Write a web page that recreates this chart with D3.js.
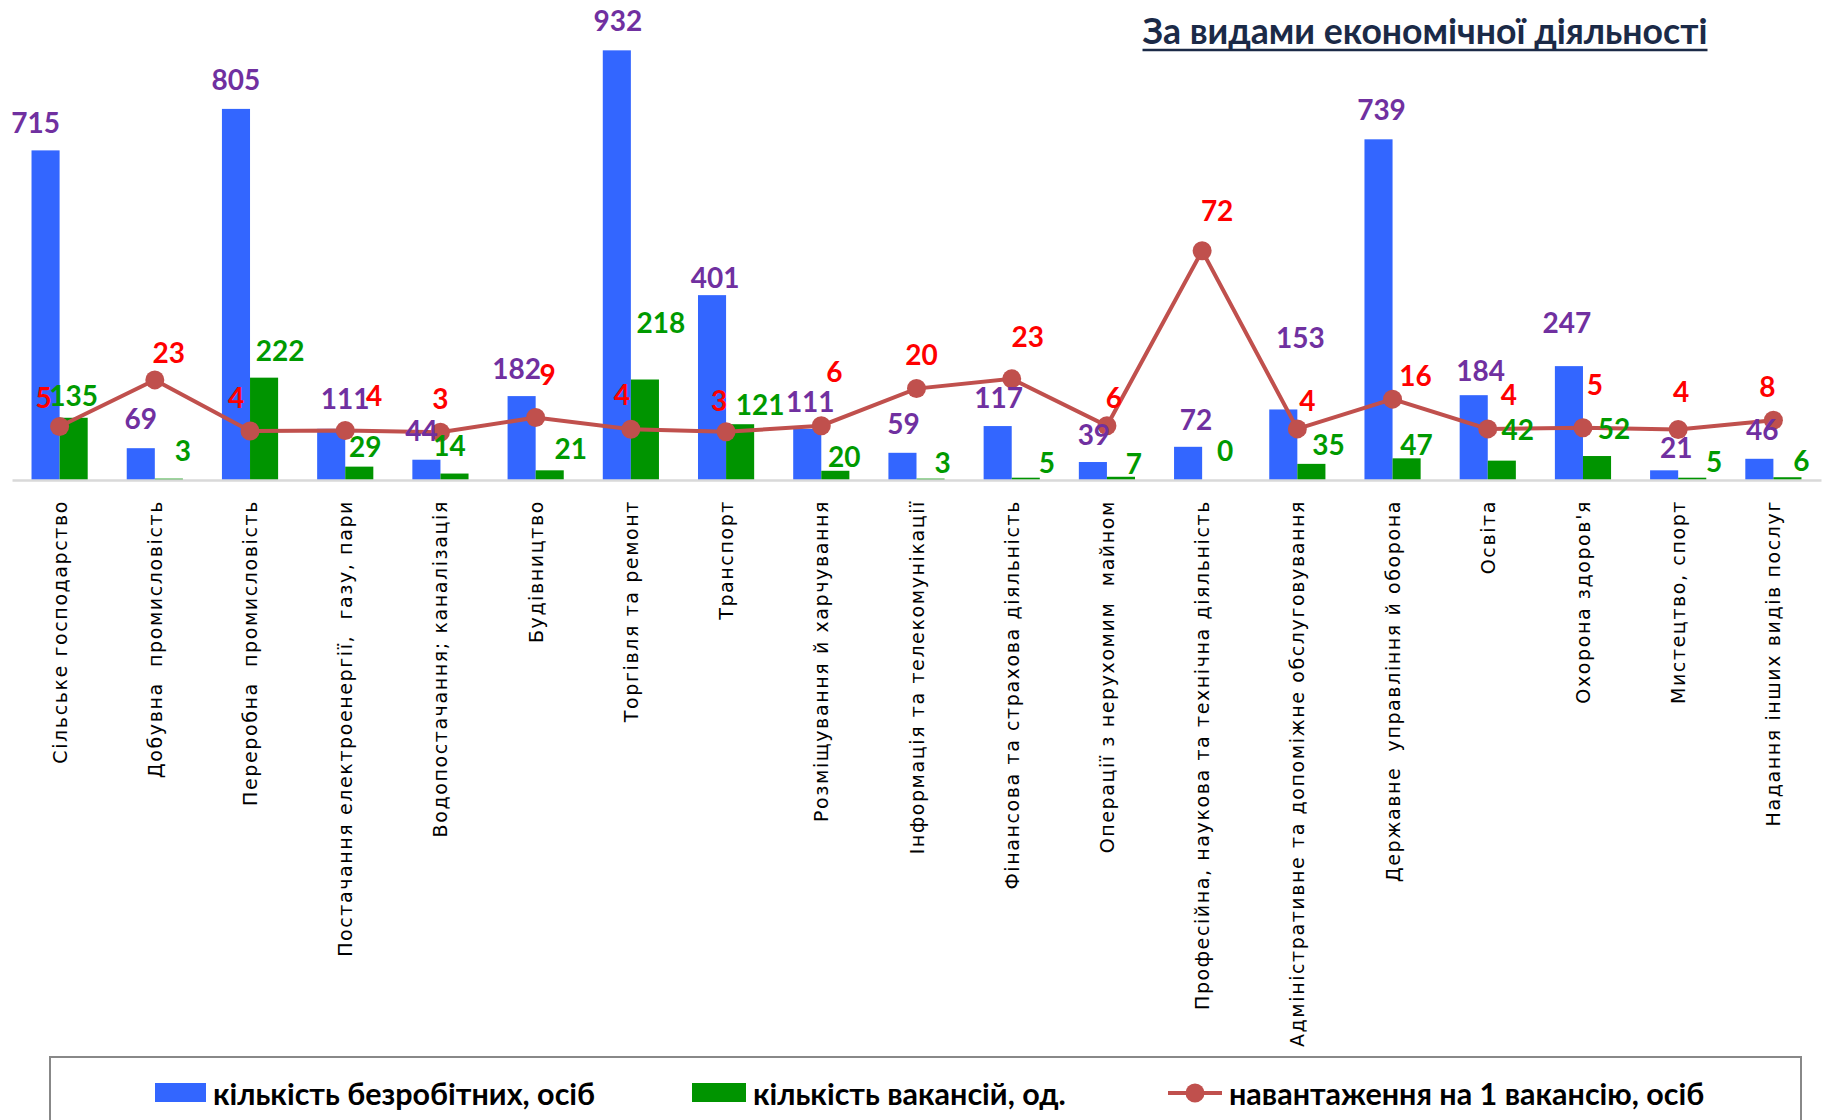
<!DOCTYPE html>
<html>
<head>
<meta charset="utf-8">
<script src="https://cdn.jsdelivr.net/npm/d3@7"></script>
<style>
  html, body { margin: 0; padding: 0; background: #fff; }
  svg { display: block; }
  text { white-space: pre; }
</style>
</head>
<body>
<svg id="chart" width="1828" height="1120"></svg>
<script>
// ---- data ----
const categories = [
  "Сільське господарство",
  "Добувна  промисловість",
  "Переробна  промисловість",
  "Постачання електроенергії,  газу, пари",
  "Водопостачання; каналізація",
  "Будівництво",
  "Торгівля та ремонт",
  "Транспорт",
  "Розміщування й харчування",
  "Інформація та телекомунікації",
  "Фінансова та страхова діяльність",
  "Операції з нерухомим  майном",
  "Професійна, наукова та технічна діяльність",
  "Адміністративне та допоміжне обслуговування",
  "Державне  управління й оборона",
  "Освіта",
  "Охорона здоров'я",
  "Мистецтво, спорт",
  "Надання інших видів послуг"
];
const unemployed = [715, 69, 805, 111, 44, 182, 932, 401, 111, 59, 117, 39, 72, 153, 739, 184, 247, 21, 46];
const vacancies  = [135, 3, 222, 29, 14, 21, 218, 121, 20, 3, 5, 7, 0, 35, 47, 42, 52, 5, 6];
const loadPerVacancy = [5.3, 23, 3.6, 3.8, 3.1, 8.7, 4.3, 3.3, 5.6, 19.7, 23.4, 5.6, 72, 4.4, 15.7, 4.4, 4.8, 4.2, 7.7];
const seriesNames = ["кількість безробітних, осіб", "кількість вакансій, од.", "навантаження на 1 вакансію, осіб"];
const chartTitle = "За видами економічної діяльності";

// ---- layout: data-label nudges (px, relative to the computed anchor) ----
const uLabelDx = [-10, 0, 0, 14, -5, -5, 1, 3, 3, 1, 1, 1, 8, 17, 3, 7, -2, 12, 3];
const uLabelDy = [-27, -29, -29, -30, -29, -27, -29, -17, -27, -29, -28, -27, -27, -71, -29, -24, -43, -22, -29];
const vLabelDx = [0, 14, 16, 6, -5, 21, 16, 20, 9, 12, 21, 13, 9, 17, 10, 16, 17, 22, 14];
const vLabelDy = [-22, -28, -27, -20, -28, -21, -57, -19, -14, -16, -15, -13, -29, -19, -13, -31, -27, -16, -16];
const rLabelDx = [-16, 14, -14, 29, 0, 12, -9, -7, 13, 5, 16, 7, 15, 10, 23, 21, 12, 3, -6];
const rLabelDy = [-29, -27, -33, -34, -33, -43, -34, -31, -54, -34, -42, -28, -40, -28, -23, -34, -43, -37, -33];

// ---- styles ----
const BLUE = "#3366FF", GREEN = "#009400", LINE = "#C0504D";
const PURPLE = "#7030A0", LGREEN = "#009A00", RED = "#FF0000";
const numFont = "Lato, 'DejaVu Sans', sans-serif";

const svg = d3.select("#chart");

const x = d3.scaleBand().domain(categories).range([12, 1821]).paddingInner(0.41).paddingOuter(0.205);
const x1 = d3.scaleBand().domain(["u", "v"]).range([0, x.bandwidth()]);
const y = d3.scaleLinear().domain([0, 1000]).range([480, 19]);
const y2 = d3.scaleLinear().domain([-15, 160]).range([480, 19]);

const rows = categories.map((c, i) => ({ i, c, u: unemployed[i], v: vacancies[i], r: loadPerVacancy[i] }));

// bars
const g = svg.append("g");
g.selectAll("rect.u").data(rows).join("rect")
  .attr("x", d => x(d.c) + x1("u")).attr("width", x1.bandwidth())
  .attr("y", d => y(d.u)).attr("height", d => y(0) - y(d.u)).attr("fill", BLUE);
g.selectAll("rect.v").data(rows).join("rect")
  .attr("x", d => x(d.c) + x1("v")).attr("width", x1.bandwidth())
  .attr("y", d => y(d.v)).attr("height", d => y(0) - y(d.v)).attr("fill", GREEN);

// baseline axis
const xAxis = d3.axisBottom(x).tickSize(0).tickFormat("");
const ax = svg.append("g").attr("transform", `translate(0,${y(0)})`).call(xAxis);
ax.select(".domain").attr("stroke", "#D9D9D9").attr("stroke-width", 2.5);

// category labels
svg.append("g").selectAll("text").data(categories).join("text")
  .attr("transform", d => `translate(${x(d) + x.bandwidth() / 2},${y(0) + 20}) rotate(-90)`)
  .attr("text-anchor", "end").attr("dominant-baseline", "central")
  .attr("font-family", "'DejaVu Sans', sans-serif").attr("font-size", 19)
  .attr("letter-spacing", 1.6).attr("fill", "#000")
  .text(d => d);

// line
const cx = d => x(d.c) + x.bandwidth() / 2;
svg.append("path").datum(rows)
  .attr("fill", "none").attr("stroke", LINE).attr("stroke-width", 4)
  .attr("d", d3.line().x(cx).y(d => y2(d.r)));
svg.append("g").selectAll("circle").data(rows).join("circle")
  .attr("cx", cx).attr("cy", d => y2(d.r)).attr("r", 9.5).attr("fill", LINE);

// value labels (y = visual centre + 10 -> baseline)
const fmt = d3.format(".0f");
svg.append("g").selectAll("text").data(rows).join("text")
  .attr("x", d => x(d.c) + x1("u") + x1.bandwidth() / 2 + uLabelDx[d.i])
  .attr("y", d => y(d.u) + uLabelDy[d.i] + 10)
  .attr("text-anchor", "middle").attr("font-family", numFont).attr("font-weight", 700)
  .attr("font-size", 28).attr("fill", PURPLE).text(d => fmt(d.u));
svg.append("g").selectAll("text").data(rows).join("text")
  .attr("x", d => x(d.c) + x1("v") + x1.bandwidth() / 2 + vLabelDx[d.i])
  .attr("y", d => y(d.v) + vLabelDy[d.i] + 10)
  .attr("text-anchor", "middle").attr("font-family", numFont).attr("font-weight", 700)
  .attr("font-size", 28).attr("fill", LGREEN).text(d => fmt(d.v));
svg.append("g").selectAll("text").data(rows).join("text")
  .attr("x", d => cx(d) + rLabelDx[d.i])
  .attr("y", d => y2(d.r) + rLabelDy[d.i] + 10)
  .attr("text-anchor", "middle").attr("font-family", numFont).attr("font-weight", 700)
  .attr("font-size", 28).attr("fill", RED).text(d => fmt(d.r));

// title
const title = svg.append("text")
  .attr("x", 1425).attr("y", 44).attr("text-anchor", "middle")
  .attr("font-family", numFont).attr("font-weight", 700).attr("font-size", 35.6)
  .attr("fill", "#1B2A47").text(chartTitle);
const tb = title.node().getBBox();
svg.append("line").attr("x1", tb.x).attr("x2", tb.x + tb.width)
  .attr("y1", 50).attr("y2", 50).attr("stroke", "#1B2A47").attr("stroke-width", 2.5);

// legend
svg.append("rect").attr("x", 50).attr("y", 1057).attr("width", 1751).attr("height", 80)
  .attr("fill", "#fff").attr("stroke", "#888").attr("stroke-width", 2);
const legY = 1093;
const leg = svg.append("g");
const legX = [155, 692, 1168];
leg.append("rect").attr("x", legX[0]).attr("y", legY - 10).attr("width", 51).attr("height", 19).attr("fill", BLUE);
leg.append("rect").attr("x", legX[1]).attr("y", legY - 10).attr("width", 54).attr("height", 19).attr("fill", GREEN);
leg.append("line").attr("x1", legX[2]).attr("x2", legX[2] + 54).attr("y1", legY).attr("y2", legY)
  .attr("stroke", LINE).attr("stroke-width", 4);
leg.append("circle").attr("cx", legX[2] + 27).attr("cy", legY).attr("r", 9.5).attr("fill", LINE);
const legTextX = [213, 753, 1229];
seriesNames.forEach((s, i) => {
  leg.append("text").attr("x", legTextX[i]).attr("y", legY).attr("dominant-baseline", "central")
    .attr("font-family", numFont).attr("font-weight", 700).attr("font-size", 30.5)
    .attr("fill", "#000").text(s);
});
</script>
</body>
</html>
